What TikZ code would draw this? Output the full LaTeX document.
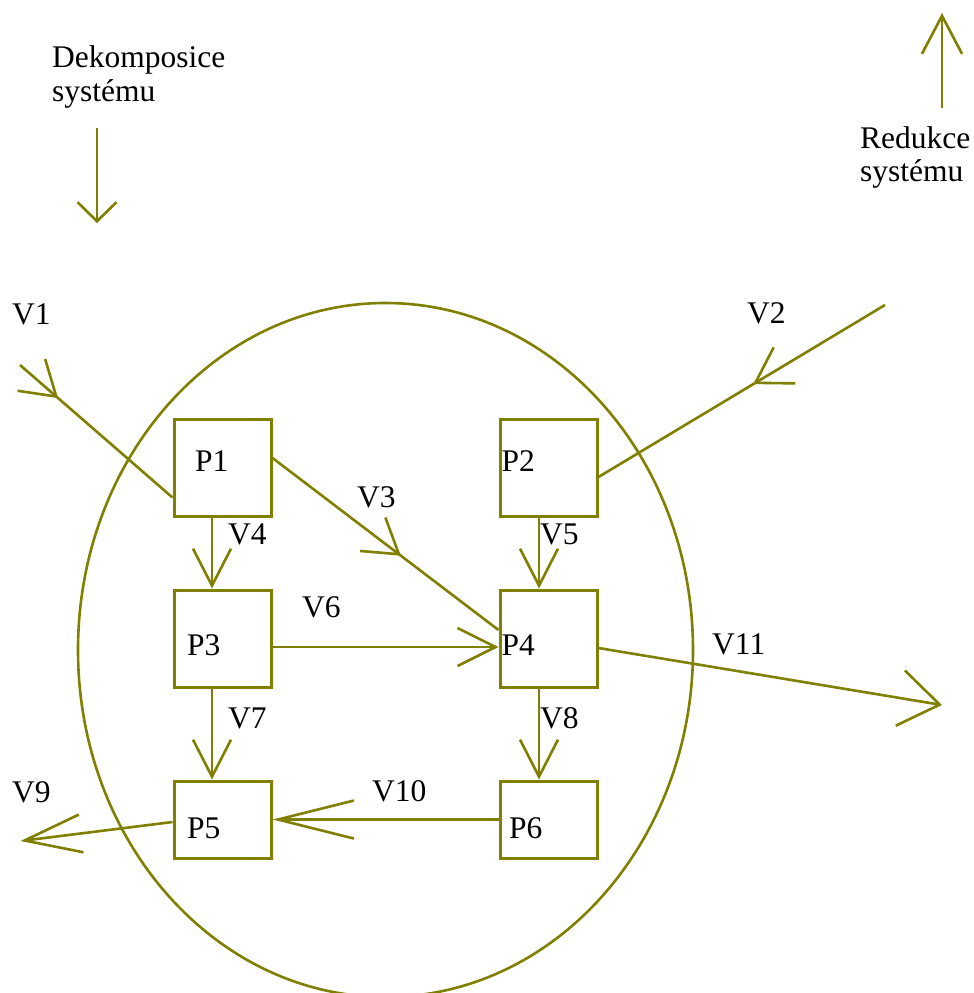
\documentclass[tikz,border=0pt]{standalone}
\usepackage{fontspec}
\setmainfont{Liberation Serif}
\usetikzlibrary{arrows.meta,decorations.markings}
\definecolor{ol}{RGB}{128,128,0}
\newcommand{\fnt}{\fontsize{31.5}{34}\selectfont}
\tikzset{
  ln/.style={draw=ol, line width=2.6pt},
  pbox/.style={draw=ol, line width=3pt, rectangle, minimum width=97pt, minimum height=97pt, inner sep=0pt},
  sbox/.style={pbox, minimum height=77pt},
  lbl/.style={anchor=base west, inner sep=0pt, font=\fnt, text=black},
  vhead/.style={-{Straight Barb[length=37pt,width=38pt]}},
  midarrow/.style 2 args={postaction={decorate}, decoration={markings, mark=at position #1 with {\arrow[line width=2.6pt,ol]{#2}}}}
}
\begin{document}
\begin{tikzpicture}[x=1pt,y=-1pt]
\useasboundingbox (0,0) rectangle (974,993);
% system boundary
\draw[ln] (385.5,650) ellipse [x radius=307.5, y radius=347];
% boxes
\node[pbox] (P1) at (222.5,467.5) {};
\node[pbox] (P2) at (548.5,467.5) {};
\node[pbox] (P3) at (222.5,638.5) {};
\node[pbox] (P4) at (548.5,638.5) {};
\node[sbox] (P5) at (222.5,819.5) {};
\node[sbox] (P6) at (548.5,819.5) {};
% box labels
\node[lbl] (P1t) at (195,471) {P1};
\node[lbl] (P2t) at (501.5,471) {P2};
\node[lbl] (P3t) at (187,655) {P3};
\node[lbl] (P4t) at (501.5,655) {P4};
\node[lbl] (P5t) at (187,838) {P5};
\node[lbl] (P6t) at (509,838) {P6};
% free ends
\coordinate (v1s) at (20,365);
\coordinate (v2s) at (885,305);
\coordinate (v9e) at (20.5,841);
\coordinate (v11e) at (942,705);
\coordinate (dks) at (97,128);
\coordinate (dke) at (97,223);
\coordinate (rds) at (942,108);
\coordinate (rde) at (942,13);
% connectors
\draw[ln, midarrow={0.25}{Straight Barb[length=33pt,width=42pt]}] (v1s) -- ([yshift=20pt]P1.south west);
\draw[ln, midarrow={0.46}{Straight Barb[length=34pt,width=42pt]}] (v2s) -- ([yshift=-9.5pt]P2.east);
\draw[ln, midarrow={0.568}{Straight Barb[length=33pt,width=42pt]}] ([yshift=9.5pt]P1.east) -- ([yshift=8.5pt]P4.west);
\draw[ln, vhead] ([xshift=-10.5pt]P1.south) -- ([xshift=-10.5pt]P3.north);
\draw[ln, vhead] ([xshift=-9.5pt]P2.south) -- ([xshift=-9.5pt]P4.north);
\draw[ln, -{Straight Barb[length=38pt,width=38pt]}] ([yshift=-8.5pt]P3.east) -- ([yshift=-8.5pt]P4.west);
\draw[ln, vhead] ([xshift=-10.5pt]P3.south) -- ([xshift=-10.5pt]P5.north);
\draw[ln, vhead] ([xshift=-9.5pt]P4.south) -- ([xshift=-9.5pt]P6.north);
\draw[ln, -{Straight Barb[length=57pt,width=38pt]}] ([yshift=-2.5pt]P5.west) -- (v9e);
\draw[ln, -{Straight Barb[length=76pt,width=38pt]}] (P6.west) -- (P5.east);
\draw[ln, -{Straight Barb[length=40pt,width=56pt]}] ([yshift=-9.5pt]P4.east) -- (v11e);
\draw[ln, -{Straight Barb[length=19pt,width=39pt]}] (dks) -- (dke);
\draw[ln, -{Straight Barb[length=38pt,width=40pt]}] (rds) -- (rde);
% connector labels
\node[lbl] (V1) at (12,324) {V1};
\node[lbl] (V2) at (747,323) {V2};
\node[lbl] (V3) at (357,507) {V3};
\node[lbl] (V4) at (228,544) {V4};
\node[lbl] (V5) at (540,544) {V5};
\node[lbl] (V6) at (302,617) {V6};
\node[lbl] (V7) at (228,728) {V7};
\node[lbl] (V8) at (540,728) {V8};
\node[lbl] (V9) at (12,802) {V9};
\node[lbl] (V10) at (372,801) {V10};
\node[lbl] (V11) at (712,654) {V11};
% headings
\node[lbl] (dk1) at (52,67) {Dekomposice};
\node[lbl] (dk2) at (52,101) {systému};
\node[lbl] (rd1) at (860,148) {Redukce};
\node[lbl] (rd2) at (860,181) {systému};
\end{tikzpicture}
\end{document}
